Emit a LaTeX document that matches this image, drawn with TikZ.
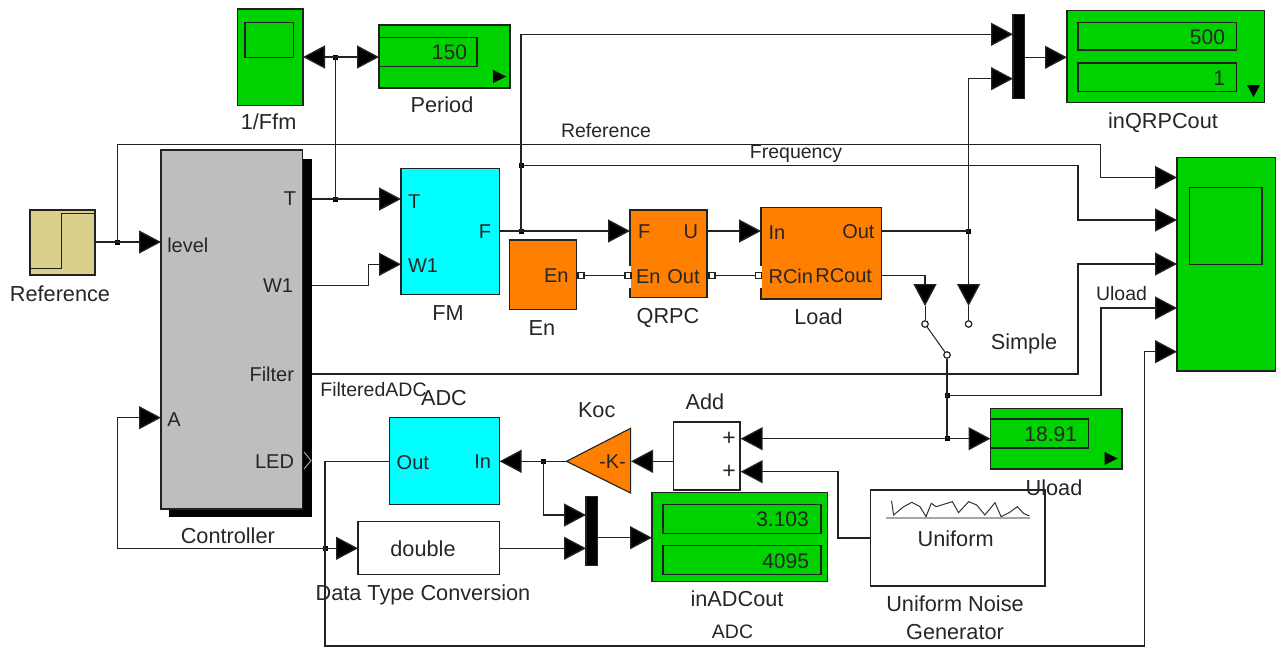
\documentclass[tikz,border=0pt]{standalone}
\usepackage{fontspec}
\setmainfont{Liberation Sans}
\usetikzlibrary{arrows.meta}
\definecolor{lcol}{HTML}{222222}
\definecolor{dgreen}{HTML}{00D200}
\definecolor{dorange}{HTML}{FF8000}
\definecolor{dcyan}{HTML}{00FFFF}
\definecolor{dgray}{HTML}{BEBEBE}
\definecolor{dtan}{HTML}{DBCF8E}
\newcommand{\blk}[6]{%
  \pgfmathsetmacro{\bw}{#4-#2}\pgfmathsetmacro{\bh}{#5-#3}%
  \node[blockbox,#6,minimum width=\bw pt,minimum height=\bh pt] (#1) at ({(#2+#4)/2},{(#3+#5)/2}) {};}
\tikzset{
  blockbox/.style={draw=lcol,line width=1.3pt,rectangle,inner sep=0pt,outer sep=0pt},
  lab/.style={inner sep=0pt,outer sep=0pt,font=\fontsize{21.7}{24}\selectfont,text=black!85,text height=15.5pt,text depth=0pt},
  sig/.style={lab,font=\fontsize{19.5}{22}\selectfont},
  labr/.style={lab,anchor=east,font=\fontsize{20}{24}\selectfont},
  labl/.style={lab,anchor=west,font=\fontsize{20}{24}\selectfont},
  num/.style={lab,anchor=east,font=\fontsize{21}{24}\selectfont},
  wire/.style={draw=lcol,line width=1.3pt},
  arr/.style={wire,-{Triangle[length=22pt,width=23pt,fill=black]}},
  jn/.style={rectangle,fill=black,inner sep=0pt,minimum size=5pt},
  prt/.style={rectangle,draw=lcol,fill=white,line width=1.6pt,inner sep=0pt,minimum size=6pt},
  swp/.style={circle,draw=lcol,fill=white,line width=1.2pt,inner sep=0pt,minimum size=6.5pt},
}
\begin{document}
\begin{tikzpicture}[x=1pt,y=-1pt]
\useasboundingbox (0,0) rectangle (1276,648);
% blocks
\blk{ffm}{237.5}{9}{303}{105.7}{fill=dgreen}
\blk{ffmi}{245}{22.5}{293.5}{57.5}{}
\blk{per}{379}{25}{510}{88}{fill=dgreen}
\blk{peri}{379}{37.5}{477}{66.5}{}
\fill[black] (493,70) -- (506,76.5) -- (493,83) -- cycle;
\fill[black] (169.4,158.7) rectangle (312,517);
\blk{ctrl}{161}{150}{302.5}{509}{fill=dgray}
\blk{ref}{30}{210}{95}{275}{fill=dtan}
\draw[wire] (30,268.7) -- (61.6,268.7) -- (61.6,213.7) -- (95,213.7);
\blk{scope}{1177}{157.7}{1275.5}{371}{fill=dgreen}
\blk{scopei}{1189.7}{187.7}{1262}{264.7}{}
\blk{fm}{401}{168.3}{499.6}{294.7}{fill=dcyan}
\blk{en}{509.8}{240}{576.3}{309.7}{fill=dorange}
\blk{qrpc}{630}{210}{707}{297.3}{fill=dorange}
\blk{load}{761}{207.3}{881.8}{299}{fill=dorange}
\fill[white] (760,265.7) rectangle (762.2,287.7);
\fill[white] (629,265.7) rectangle (631.2,287.7);
\blk{mxa}{1013}{14.7}{1024.6}{98.3}{fill=black}
\blk{iqo}{1067}{10.7}{1264.7}{102.3}{fill=dgreen}
\blk{iqoa}{1078}{22.7}{1236.4}{50}{}
\blk{iqob}{1078}{63}{1236.4}{91.7}{}
\fill[black] (1247,85) -- (1260,85) -- (1253.5,97) -- cycle;
\blk{uld}{990.5}{408.7}{1122}{469}{fill=dgreen}
\blk{uldi}{990.5}{419}{1088.7}{448}{}
\fill[black] (1104.5,452) -- (1117.5,458.5) -- (1104.5,465) -- cycle;
\blk{add}{673.3}{422}{740}{490}{fill=white}
\blk{noise}{870.4}{490}{1045}{586}{fill=white}
\blk{adc}{389.8}{417.7}{499.6}{504.7}{fill=dcyan}
\blk{dbl}{358}{521.3}{499.6}{574.3}{fill=white}
\blk{mxb}{586}{496.7}{597.5}{565.3}{fill=black}
\blk{iao}{652}{492.7}{827.4}{581.7}{fill=dgreen}
\blk{iaoa}{663}{504.7}{821}{533.3}{}
\blk{iaob}{663}{545.3}{821}{574.3}{}
% Koc triangle
\coordinate (kocOut) at (566.5,461.3);
\coordinate (kocT) at (630.6,428.3);
\coordinate (kocB) at (630.6,493);
\draw[fill=dorange,draw=lcol,line width=1.1pt] (kocOut) -- (kocT) -- (kocB) -- cycle;
% noise curve
\begin{scope}[shift={(640,330)},xscale=0.4057,yscale=0.3333]
\draw[black!35,line width=2pt] (606,563) -- (962,563);
\draw[black!80,line width=1pt] (620,512) -- (625,555) -- (650,530) -- (670,517) -- (690,530) -- (705,560) -- (718,520) -- (730,530) -- (770,515) -- (785,548) -- (810,515) -- (830,525) -- (850,555) -- (875,518) -- (890,560) -- (910,548) -- (930,530) -- (945,550) -- (960,558);
\end{scope}
% ports
\coordinate (refOut) at (95,242);
\coordinate (ctrlLevel) at (161,242);
\coordinate (ctrlA) at (161,417.7);
\coordinate (ctrlT) at (312,199);
\coordinate (ctrlW) at (312,285.3);
\coordinate (ctrlF) at (312,374);
\coordinate (ffmIn) at (303,57);
\coordinate (perIn) at (379,57);
\coordinate (fmT) at (401,199);
\coordinate (fmW) at (401,264.3);
\coordinate (fmF) at (499.6,231);
\coordinate (qrpcF) at (630,231);
\coordinate (qrpcU) at (707,231);
\coordinate (loadIn) at (761,231);
\coordinate (loadOut) at (881.8,231);
\coordinate (loadRC) at (881.8,275.3);
\coordinate (mxaA) at (1013,34.3);
\coordinate (mxaB) at (1013,78.7);
\coordinate (mxaOut) at (1024.6,57.3);
\coordinate (iqoIn) at (1067,57.3);
\coordinate (sc1) at (1177,177.5);
\coordinate (sc2) at (1177,220);
\coordinate (sc3) at (1177,264);
\coordinate (sc4) at (1177,308);
\coordinate (sc5) at (1177,351.7);
\coordinate (kRef) at (1100.5,144.5);
\coordinate (kFreq) at (1078,165.3);
\coordinate (kFilt) at (1078,374);
\coordinate (kUl) at (1101,395.3);
\coordinate (swAin) at (925,306);
\coordinate (swBin) at (968.6,306);
\coordinate (addA) at (740.6,438.7);
\coordinate (addB) at (740.6,471.7);
\coordinate (addOut) at (673.3,461.3);
\coordinate (uldIn) at (990.5,438.7);
\coordinate (noiseOut) at (870.4,538);
\coordinate (kN) at (838,538);
\coordinate (kocIn) at (631,461.3);
\coordinate (adcIn) at (499.6,461.3);
\coordinate (adcOut) at (389.8,461.3);
\coordinate (kA) at (325,461.3);
\coordinate (kB) at (325,646);
\coordinate (kC) at (1144.7,646);
\coordinate (kE) at (117.5,548.3);
\coordinate (dblIn) at (358,548.3);
\coordinate (dblOut) at (499.6,548.3);
\coordinate (mxbA) at (586,515);
\coordinate (mxbB) at (586,548.3);
\coordinate (mxbOut) at (597.5,537.7);
\coordinate (iaoIn) at (652,537.7);
\coordinate (kW) at (368.6,285.3);
% junctions and small ports
\node[jn] (jRef) at (117.5,242) {};
\node[jn] (jP) at (335.5,57) {};
\node[jn] (jT) at (335.5,199) {};
\node[jn] (jF) at (521,231) {};
\node[jn] (jF2) at (521,165.3) {};
\node[jn] (jOut) at (968.6,231) {};
\node[jn] (jU1) at (947,395.3) {};
\node[jn] (jU2) at (947,438.7) {};
\node[jn] (jK) at (543.3,461.3) {};
\node[jn] (jD) at (325,548.3) {};
% connectors
\draw[arr] (refOut) -- (ctrlLevel);
\draw[arr] (jRef.center) |- (kRef) |- (sc1);
\draw[arr] (ctrlT) -- (fmT);
\draw[wire] (jT.center) -- (jP.center);
\draw[arr] (jP.center) -- (ffmIn);
\draw[arr] (jP.center) -- (perIn);
\draw[arr] (ctrlW) -- (kW) |- (fmW);
\draw[arr] (fmF) -- (qrpcF);
\draw[arr] (jF.center) |- (mxaA);
\draw[arr] (jF2.center) -- (kFreq) |- (sc2);
\draw[arr] (qrpcU) -- (loadIn);
\draw[wire] (loadOut) -- (jOut.center);
\draw[arr] (jOut.center) -- (swBin);
\draw[arr] (jOut.center) |- (mxaB);
\draw[arr] (mxaOut) -- (iqoIn);
\draw[arr] (loadRC) -| (swAin);
\draw[arr] (ctrlF) -- (kFilt) |- (sc3);
\draw[arr] (jU1.center) -- (kUl) |- (sc4);
\draw[arr] (jU2.center) -- (addA);
\draw[arr] (jU2.center) -- (uldIn);
\draw[arr] (noiseOut) -- (kN) |- (addB);
\draw[arr] (addOut) -- (kocIn);
\draw[arr] (kocOut) -- (adcIn);
\draw[arr] (jK.center) |- (mxbA);
\draw[arr] (dblOut) -- (mxbB);
\draw[arr] (mxbOut) -- (iaoIn);
\draw[wire] (adcOut) -- (kA) -- (kB) -- (kC);
\draw[arr] (kC) |- (sc5);
\draw[arr] (jD.center) -- (dblIn);
\draw[arr] (jD.center) -- (kE) |- (ctrlA);
% switch
\node[swp] (swA) at (925,324) {};
\node[swp] (swB) at (968.6,324) {};
\node[swp] (swP) at (947,355) {};
\draw[wire,line width=1pt] (swAin) -- (swA);
\draw[wire,line width=1pt] (swBin) -- (swB);
\draw[wire,line width=1pt] (swA) -- (swP);
\draw[wire] (swP) -- (jU2.center);
% En ports
\node[prt] (enP) at (581,275.3) {};
\node[prt] (qEnP) at (627.7,275.3) {};
\node[prt] (qOutP) at (711.8,275.3) {};
\node[prt] (lP) at (758.5,275.3) {};
\draw[wire] (enP) -- (qEnP);
\draw[wire] (qOutP) -- (lP);
% LED chevron
\draw[black!35,line width=1pt] (304,452) -- (311,460.5) -- (304,469);
% labels
\node[lab] (tRef) at (60,294) {Reference};
\node[lab] (tFfm) at (268.6,122) {1/Ffm};
\node[lab] (tPer) at (442,105) {Period};
\node[num] (t150) at (467,52) {150};
\node[sig] (tSRef) at (606,130) {Reference};
\node[sig] (tFreq) at (796,151) {Frequency};
\node[lab] (tIqo) at (1163,121) {inQRPCout};
\node[num] (t500) at (1225,37) {500};
\node[num] (t1) at (1225,78) {1};
\node[lab] (tSim) at (1024,342) {Simple};
\node[sig] (tSU) at (1121.5,293) {Uload};
\node[lab] (tFM) at (448,313) {FM};
\node[lab] (tEn) at (542,328) {En};
\node[lab] (tQ) at (668,316) {QRPC};
\node[lab] (tLoad) at (818.5,316.5) {Load};
\node[labr] (cT) at (296,198) {T};
\node[labr] (cW) at (293,285) {W1};
\node[labl] (cL) at (167.3,245) {level};
\node[labr] (cF) at (294,374) {Filter};
\node[labr] (cE) at (294,460.7) {LED};
\node[labl] (cA) at (167.3,419) {A};
\node[labl] (fT) at (408,201) {T};
\node[labl] (fW) at (408,265) {W1};
\node[labr] (fF) at (491,231) {F};
\node[labr] (eEn) at (568.6,275) {En};
\node[labl] (qF) at (638,231) {F};
\node[labr] (qU) at (698,231) {U};
\node[labl] (qE) at (636,276) {En};
\node[labr] (qO) at (699.6,276) {Out};
\node[labl] (lI) at (768.6,232) {In};
\node[labr] (lO) at (874.5,231) {Out};
\node[labl] (lR) at (768.6,276) {RCin};
\node[labr] (lC) at (872,275) {RCout};
\node[sig,anchor=west] (tFA) at (320.4,389) {FilteredADC};
\node[lab] (tADC) at (444,398) {ADC};
\node[lab] (tKoc) at (596.7,410) {Koc};
\node[lab,font=\fontsize{20}{24}\selectfont] (tK) at (612.5,461) {-K-};
\node[lab] (tCtrl) at (227.8,536) {Controller};
\node[lab] (tDTC) at (423,593) {Data Type Conversion};
\node[lab] (tDbl) at (423,549) {double};
\node[labl] (aO) at (396.7,462) {Out};
\node[labr] (aI) at (491,461) {In};
\node[lab] (tAdd) at (705,402) {Add};
\node[lab,font=\fontsize{23}{24}\selectfont,text height=12pt] (pA) at (729,439) {+};
\node[lab,font=\fontsize{23}{24}\selectfont,text height=12pt] (pB) at (729,472.3) {+};
\node[lab] (tUl) at (1054,487.6) {Uload};
\node[num] (t1891) at (1077,433.5) {18.91};
\node[lab] (tIao) at (737,598.7) {inADCout};
\node[sig] (tSA) at (732.5,630.7) {ADC};
\node[lab] (tUNG) at (955,603.7) {Uniform Noise};
\node[lab] (tGen) at (955,632) {Generator};
\node[lab] (tUni) at (955.6,539) {Uniform};
\node[num] (t3103) at (808.8,519) {3.103};
\node[num] (t4095) at (809,561) {4095};
\end{tikzpicture}
\end{document}
